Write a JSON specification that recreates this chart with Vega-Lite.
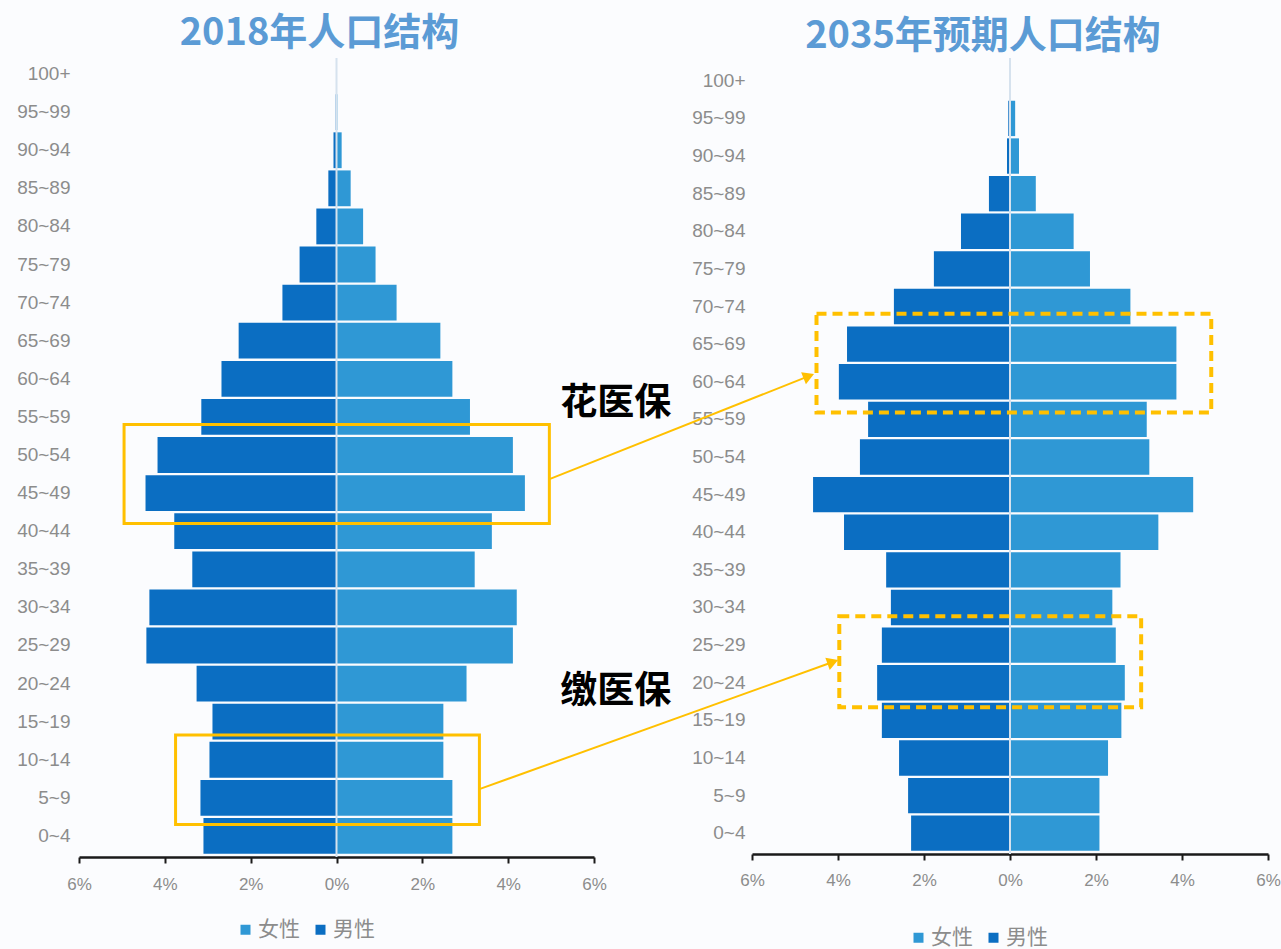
{
  "$schema": "https://vega.github.io/schema/vega-lite/v6.json",
  "background": "#fbfcfe",
  "padding": {"left": 16, "top": 15, "right": 5, "bottom": 3},
  "datasets": {
    "pop2018": [
      {"age": "100+", "sex": "男性", "value": -0.0}, {"age": "100+", "sex": "女性", "value": 0.0},
      {"age": "95~99", "sex": "男性", "value": -0.02}, {"age": "95~99", "sex": "女性", "value": 0.02},
      {"age": "90~94", "sex": "男性", "value": -0.07}, {"age": "90~94", "sex": "女性", "value": 0.12},
      {"age": "85~89", "sex": "男性", "value": -0.19}, {"age": "85~89", "sex": "女性", "value": 0.33},
      {"age": "80~84", "sex": "男性", "value": -0.47}, {"age": "80~84", "sex": "女性", "value": 0.62},
      {"age": "75~79", "sex": "男性", "value": -0.86}, {"age": "75~79", "sex": "女性", "value": 0.91},
      {"age": "70~74", "sex": "男性", "value": -1.26}, {"age": "70~74", "sex": "女性", "value": 1.40},
      {"age": "65~69", "sex": "男性", "value": -2.28}, {"age": "65~69", "sex": "女性", "value": 2.42},
      {"age": "60~64", "sex": "男性", "value": -2.68}, {"age": "60~64", "sex": "女性", "value": 2.70},
      {"age": "55~59", "sex": "男性", "value": -3.15}, {"age": "55~59", "sex": "女性", "value": 3.11},
      {"age": "50~54", "sex": "男性", "value": -4.17}, {"age": "50~54", "sex": "女性", "value": 4.11},
      {"age": "45~49", "sex": "男性", "value": -4.45}, {"age": "45~49", "sex": "女性", "value": 4.39},
      {"age": "40~44", "sex": "男性", "value": -3.78}, {"age": "40~44", "sex": "女性", "value": 3.62},
      {"age": "35~39", "sex": "男性", "value": -3.36}, {"age": "35~39", "sex": "女性", "value": 3.22},
      {"age": "30~34", "sex": "男性", "value": -4.36}, {"age": "30~34", "sex": "女性", "value": 4.20},
      {"age": "25~29", "sex": "男性", "value": -4.43}, {"age": "25~29", "sex": "女性", "value": 4.11},
      {"age": "20~24", "sex": "男性", "value": -3.26}, {"age": "20~24", "sex": "女性", "value": 3.03},
      {"age": "15~19", "sex": "男性", "value": -2.89}, {"age": "15~19", "sex": "女性", "value": 2.49},
      {"age": "10~14", "sex": "男性", "value": -2.96}, {"age": "10~14", "sex": "女性", "value": 2.49},
      {"age": "5~9", "sex": "男性", "value": -3.17}, {"age": "5~9", "sex": "女性", "value": 2.70},
      {"age": "0~4", "sex": "男性", "value": -3.10}, {"age": "0~4", "sex": "女性", "value": 2.70}
    ],
    "pop2035": [
      {"age": "100+", "sex": "男性", "value": -0.0}, {"age": "100+", "sex": "女性", "value": 0.0},
      {"age": "95~99", "sex": "男性", "value": -0.04}, {"age": "95~99", "sex": "女性", "value": 0.12},
      {"age": "90~94", "sex": "男性", "value": -0.07}, {"age": "90~94", "sex": "女性", "value": 0.21},
      {"age": "85~89", "sex": "男性", "value": -0.49}, {"age": "85~89", "sex": "女性", "value": 0.60},
      {"age": "80~84", "sex": "男性", "value": -1.14}, {"age": "80~84", "sex": "女性", "value": 1.48},
      {"age": "75~79", "sex": "男性", "value": -1.77}, {"age": "75~79", "sex": "女性", "value": 1.86},
      {"age": "70~74", "sex": "男性", "value": -2.70}, {"age": "70~74", "sex": "女性", "value": 2.80},
      {"age": "65~69", "sex": "男性", "value": -3.79}, {"age": "65~69", "sex": "女性", "value": 3.87},
      {"age": "60~64", "sex": "男性", "value": -3.98}, {"age": "60~64", "sex": "女性", "value": 3.87},
      {"age": "55~59", "sex": "男性", "value": -3.30}, {"age": "55~59", "sex": "女性", "value": 3.18},
      {"age": "50~54", "sex": "男性", "value": -3.49}, {"age": "50~54", "sex": "女性", "value": 3.24},
      {"age": "45~49", "sex": "男性", "value": -4.58}, {"age": "45~49", "sex": "女性", "value": 4.26},
      {"age": "40~44", "sex": "男性", "value": -3.86}, {"age": "40~44", "sex": "女性", "value": 3.45},
      {"age": "35~39", "sex": "男性", "value": -2.88}, {"age": "35~39", "sex": "女性", "value": 2.57},
      {"age": "30~34", "sex": "男性", "value": -2.77}, {"age": "30~34", "sex": "女性", "value": 2.38},
      {"age": "25~29", "sex": "男性", "value": -2.98}, {"age": "25~29", "sex": "女性", "value": 2.46},
      {"age": "20~24", "sex": "男性", "value": -3.09}, {"age": "20~24", "sex": "女性", "value": 2.67},
      {"age": "15~19", "sex": "男性", "value": -2.98}, {"age": "15~19", "sex": "女性", "value": 2.59},
      {"age": "10~14", "sex": "男性", "value": -2.58}, {"age": "10~14", "sex": "女性", "value": 2.28},
      {"age": "5~9", "sex": "男性", "value": -2.37}, {"age": "5~9", "sex": "女性", "value": 2.08},
      {"age": "0~4", "sex": "男性", "value": -2.30}, {"age": "0~4", "sex": "女性", "value": 2.08}
    ],
    "boxes": [
      {"panel": "left", "id": "b1", "x1": -4.95, "x2": 4.96, "y1": 11.30, "y2": 8.70},
      {"panel": "left", "id": "b2", "x1": -3.75, "x2": 3.33, "y1": 3.15, "y2": 0.80},
      {"panel": "right", "id": "b3", "x1": -4.50, "x2": 4.68, "y1": 14.31, "y2": 11.68},
      {"panel": "right", "id": "b4", "x1": -3.97, "x2": 3.05, "y1": 6.27, "y2": 3.85}
    ],
    "arrows": [
      {"id": "a1", "ord": 1, "x": -10.71, "y": 9.91},
      {"id": "a1", "ord": 2, "x": -4.68, "y": 12.65},
      {"id": "a2", "ord": 1, "x": -12.34, "y": 1.67},
      {"id": "a2", "ord": 2, "x": -4.12, "y": 5.05}
    ],
    "notes": [
      {"label": "花医保", "x": -9.17, "y": 11.91},
      {"label": "缴医保", "x": -9.17, "y": 4.25}
    ]
  },
  "hconcat": [
    {
      "width": 515,
      "height": 799,
      "title": {"text": "2018年人口结构", "frame": "group", "anchor": "middle", "dx": -17, "offset": 3, "fontSize": 38, "font": "Noto Sans CJK SC", "fontWeight": "bold", "color": "#5b9bd5"},
      "layer": [
        {
          "data": {"name": "pop2018"},
          "mark": {"type": "bar"},
          "encoding": {
            "y": {"field": "age", "type": "nominal", "sort": null, "title": null,
                  "scale": {"range": [-3, 797], "paddingInner": 0.06, "paddingOuter": 0.03},
                  "axis": {"labelPadding": 9}},
            "x": {"field": "value", "type": "quantitative", "stack": null, "title": null,
                  "scale": {"domain": [-6, 6], "nice": false, "zero": false},
                  "axis": {"values": [-6, -4, -2, 0, 2, 4, 6], "labelExpr": "abs(datum.value) + '%'", "labelPadding": 13}},
            "color": {"field": "sex", "type": "nominal",
                      "scale": {"domain": ["女性", "男性"], "range": ["#2f98d5", "#0b6ec2"]},
                      "legend": {"orient": "none", "legendX": 156, "legendY": 861, "direction": "horizontal", "title": null}}
          }
        },
        {
          "data": {"values": [{}]},
          "mark": {"type": "rule", "color": "#d6e2ee", "strokeWidth": 2},
          "encoding": {"x": {"datum": 0, "type": "quantitative", "scale": {"domain": [-6, 6]}}}
        },
        {
          "data": {"name": "boxes"},
          "transform": [{"filter": "datum.panel == 'left'"}],
          "mark": {"type": "rect", "filled": false, "color": "#ffc000", "strokeWidth": 3},
          "encoding": {
            "x": {"field": "x1", "type": "quantitative", "scale": {"domain": [-6, 6]}},
            "x2": {"field": "x2"},
            "y": {"field": "y1", "type": "quantitative", "scale": {"domain": [0, 21], "range": [797, -3], "nice": false, "zero": false}, "axis": null},
            "y2": {"field": "y2"}
          }
        }
      ],
      "resolve": {"scale": {"y": "independent"}}
    },
    {
      "width": 516,
      "height": 796,
      "title": {"text": "2035年预期人口结构", "frame": "group", "anchor": "middle", "dx": -27, "offset": 1, "fontSize": 38, "font": "Noto Sans CJK SC", "fontWeight": "bold", "color": "#5b9bd5"},
      "layer": [
        {
          "data": {"name": "pop2035"},
          "mark": {"type": "bar"},
          "encoding": {
            "y": {"field": "age", "type": "nominal", "sort": null, "title": null,
                  "scale": {"range": [4, 794], "paddingInner": 0.06, "paddingOuter": 0.03},
                  "axis": {"labelPadding": 7}},
            "x": {"field": "value", "type": "quantitative", "stack": null, "title": null,
                  "scale": {"domain": [-6, 6], "nice": false, "zero": false},
                  "axis": {"values": [-6, -4, -2, 0, 2, 4, 6], "labelExpr": "abs(datum.value) + '%'", "labelPadding": 12}},
            "color": {"field": "sex", "type": "nominal",
                      "scale": {"domain": ["女性", "男性"], "range": ["#2f98d5", "#0b6ec2"]},
                      "legend": {"orient": "none", "legendX": 156, "legendY": 869, "direction": "horizontal", "title": null}}
          }
        },
        {
          "data": {"values": [{}]},
          "mark": {"type": "rule", "color": "#d6e2ee", "strokeWidth": 2},
          "encoding": {"x": {"datum": 0, "type": "quantitative", "scale": {"domain": [-6, 6]}}}
        },
        {
          "layer": [
            {
              "data": {"name": "boxes"},
              "transform": [{"filter": "datum.panel == 'right'"}],
              "mark": {"type": "rect", "filled": false, "color": "#ffc000", "strokeWidth": 4, "strokeDash": [10, 6]},
              "encoding": {
                "x": {"field": "x1", "type": "quantitative", "scale": {"domain": [-6, 6]}},
                "x2": {"field": "x2"},
                "y": {"field": "y1", "type": "quantitative", "scale": {"domain": [0, 21], "range": [794, 4], "nice": false, "zero": false}, "axis": null},
                "y2": {"field": "y2"}
              }
            },
            {
              "data": {"name": "arrows"},
              "mark": {"type": "line", "color": "#ffc000", "strokeWidth": 2},
              "encoding": {
                "x": {"field": "x", "type": "quantitative", "scale": {"domain": [-6, 6]}},
                "y": {"field": "y", "type": "quantitative", "scale": {"domain": [0, 21], "range": [794, 4], "nice": false, "zero": false}, "axis": null},
                "detail": {"field": "id"},
                "order": {"field": "ord"}
              }
            },
            {
              "data": {"name": "arrows"},
              "transform": [{"filter": "datum.ord == 2 && datum.id == 'a1'"}],
              "mark": {"type": "point", "shape": "triangle-right", "filled": true, "color": "#ffc000", "opacity": 1, "size": 170, "angle": -21.6},
              "encoding": {
                "x": {"field": "x", "type": "quantitative", "scale": {"domain": [-6, 6]}},
                "y": {"field": "y", "type": "quantitative", "scale": {"domain": [0, 21], "range": [794, 4], "nice": false, "zero": false}, "axis": null}
              }
            },
            {
              "data": {"name": "arrows"},
              "transform": [{"filter": "datum.ord == 2 && datum.id == 'a2'"}],
              "mark": {"type": "point", "shape": "triangle-right", "filled": true, "color": "#ffc000", "opacity": 1, "size": 170, "angle": -19.8},
              "encoding": {
                "x": {"field": "x", "type": "quantitative", "scale": {"domain": [-6, 6]}},
                "y": {"field": "y", "type": "quantitative", "scale": {"domain": [0, 21], "range": [794, 4], "nice": false, "zero": false}, "axis": null}
              }
            },
            {
              "data": {"name": "notes"},
              "mark": {"type": "text", "font": "Noto Sans CJK SC", "fontSize": 37, "fontWeight": "bold", "color": "#000000"},
              "encoding": {
                "x": {"field": "x", "type": "quantitative", "scale": {"domain": [-6, 6]}},
                "y": {"field": "y", "type": "quantitative", "scale": {"domain": [0, 21], "range": [794, 4], "nice": false, "zero": false}, "axis": null},
                "text": {"field": "label"}
              }
            }
          ]
        }
      ],
      "resolve": {"scale": {"y": "independent"}}
    }
  ],
  "spacing": 158,
  "bounds": "flush",
  "resolve": {"scale": {"color": "independent", "x": "independent", "y": "independent"}, "legend": {"color": "independent"}},
  "config": {
    "view": {"stroke": null},
    "axis": {"grid": false, "labelFont": "Liberation Sans", "labelColor": "#8c8c8c", "labelFontSize": 17},
    "axisX": {"domainColor": "#1a1a1a", "domainWidth": 2.5, "tickColor": "#1a1a1a", "tickWidth": 2, "tickSize": 6, "labelFontSize": 17, "labelFlush": false},
    "axisY": {"domain": false, "ticks": false, "labelFontSize": 19},
    "legend": {"labelFont": "Noto Sans CJK SC", "labelFontSize": 21, "labelColor": "#8c8c8c", "symbolType": "square", "symbolSize": 100, "symbolStrokeWidth": 0, "columnPadding": 10, "labelOffset": 2, "padding": 0}
  }
}
